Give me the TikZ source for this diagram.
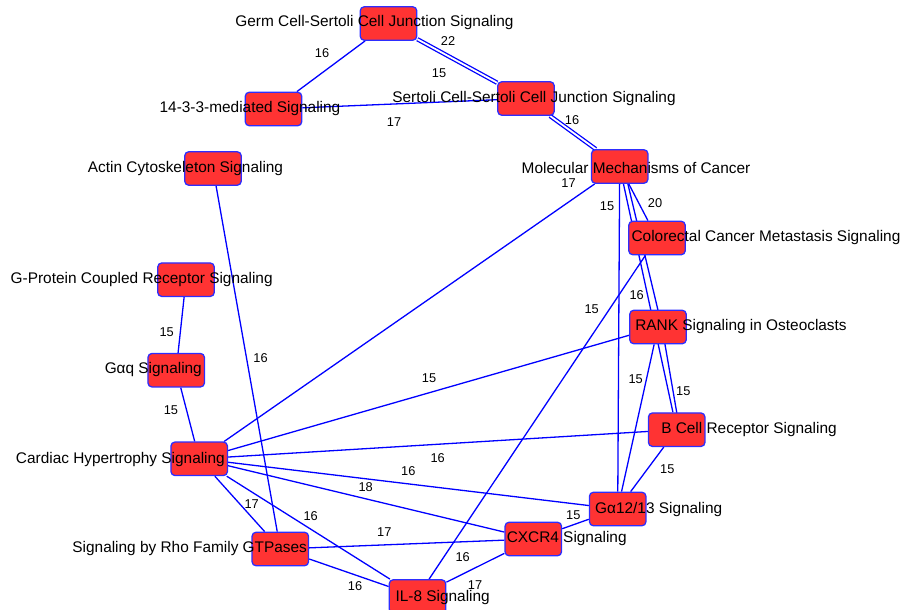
\documentclass[tikz,border=0pt]{standalone}
\usepackage{fontspec}
\setmainfont{Liberation Sans}
\usetikzlibrary{backgrounds}

\definecolor{nodered}{RGB}{255,51,51}
\definecolor{rimblue}{RGB}{45,45,255}
\definecolor{edgeblue}{RGB}{0,0,255}

\tikzset{
	pbox/.style={rectangle, rounded corners=4pt, draw=rimblue, fill=nodered, line width=1.3pt, minimum width=56.5pt, minimum height=33.5pt, inner sep=0pt},
	plabel/.style={inner sep=0pt, font=\fontsize{15.4}{18}\selectfont},
	wlabel/.style={inner sep=0pt, font=\fontsize{12.8}{15}\selectfont},
	link/.style={draw=edgeblue, line width=1.3pt},
	twolink/.style={link, double=white, double distance=1.8pt},
}

\begin{document}
\begin{tikzpicture}[x=1pt,y=-1pt]
	
	\useasboundingbox (0,0) rectangle (903,610);
	
	% pathway boxes
	\node[pbox] (gc) at (388.5,23.5) {};
	\node[pbox] (s14) at (273.5,109) {};
	\node[pbox] (sc) at (526,98.5) {};
	\node[pbox] (actin) at (213,168.5) {};
	\node[pbox] (mmc) at (619.7,166.5) {};
	\node[pbox] (crc) at (657,238) {};
	\node[pbox] (rank) at (658,327) {};
	\node[pbox] (bcr) at (676.7,429.7) {};
	\node[pbox] (g1213) at (617.7,509) {};
	\node[pbox] (cxcr4) at (533.3,539) {};
	\node[pbox] (il8) at (417.5,596.5) {};
	\node[pbox] (rho) at (280.3,549) {};
	\node[pbox] (chs) at (199.2,458.8) {};
	\node[pbox] (gaq) at (176.2,370.2) {};
	\node[pbox] (gpcr) at (186,279.7) {};
	
	% pathway names
	\node[plabel] (gc-t) at (374.5,23) {Germ Cell-Sertoli Cell Junction Signaling};
	\node[plabel] (s14-t) at (250,109) {14-3-3-mediated Signaling};
	\node[plabel] (sc-t) at (534,99) {Sertoli Cell-Sertoli Cell Junction Signaling};
	\node[plabel] (actin-t) at (185.5,169) {Actin Cytoskeleton Signaling};
	\node[plabel] (mmc-t) at (636,167.5) {Molecular Mechanisms of Cancer};
	\node[plabel] (crc-t) at (766,238) {Colorectal Cancer Metastasis Signaling};
	\node[plabel] (rank-t) at (741,327) {RANK Signaling in Osteoclasts};
	\node[plabel] (bcr-t) at (749,430) {B Cell Receptor Signaling};
	\node[plabel] (g1213-t) at (658.7,509.5) {Gα12/13 Signaling};
	\node[plabel] (cxcr4-t) at (566.7,539) {CXCR4 Signaling};
	\node[plabel] (il8-t) at (442.7,598) {IL-8 Signaling};
	\node[plabel] (rho-t) at (189.7,549) {Signaling by Rho Family GTPases};
	\node[plabel] (chs-t) at (120.4,459.3) {Cardiac Hypertrophy Signaling};
	\node[plabel] (gaq-t) at (153.3,369.5) {Gαq Signaling};
	\node[plabel] (gpcr-t) at (141.7,280) {G-Protein Coupled Receptor Signaling};
	
	% shared gene counts
	\node[wlabel] (w1) at (322,52.7) {16};
	\node[wlabel] (w2) at (448,41) {22};
	\node[wlabel] (w3) at (439,73) {15};
	\node[wlabel] (w4) at (394,121.7) {17};
	\node[wlabel] (w5) at (572,120) {16};
	\node[wlabel] (w6) at (568.5,182.7) {17};
	\node[wlabel] (w7) at (607,206) {15};
	\node[wlabel] (w8) at (655,203) {20};
	\node[wlabel] (w9) at (591.7,309) {15};
	\node[wlabel] (w10) at (636.7,295) {16};
	\node[wlabel] (w11) at (429,378) {15};
	\node[wlabel] (w12) at (635.7,379) {15};
	\node[wlabel] (w13) at (683.3,390.7) {15};
	\node[wlabel] (w14) at (260.5,358.5) {16};
	\node[wlabel] (w15) at (166.7,331.7) {15};
	\node[wlabel] (w16) at (171,410) {15};
	\node[wlabel] (w17) at (437.7,458.3) {16};
	\node[wlabel] (w18) at (408.3,470.7) {16};
	\node[wlabel] (w19) at (365.7,486.7) {18};
	\node[wlabel] (w20) at (251.7,504.3) {17};
	\node[wlabel] (w21) at (310.7,516) {16};
	\node[wlabel] (w22) at (384.3,532.3) {17};
	\node[wlabel] (w23) at (355,585.7) {16};
	\node[wlabel] (w24) at (462.7,557.3) {16};
	\node[wlabel] (w25) at (475,585) {17};
	\node[wlabel] (w26) at (573.3,515) {15};
	\node[wlabel] (w27) at (667.3,469.3) {15};
	
	\begin{pgfonlayer}{background}
	\draw[link] (gc) -- (s14);
	\draw[twolink] (gc) -- (sc);
	\draw[link] (s14) -- (sc);
	\draw[twolink] (sc) -- (mmc);
	\draw[link] (mmc) -- (chs);
	\draw[link] (mmc) -- (g1213);
	\draw[link] (mmc) -- (crc);
	\draw[link] ([xshift=4pt]mmc.center) -- ([xshift=4pt]rank.center);
	\draw[link] (mmc) -- (bcr);
	\draw[link] (crc) -- (il8);
	\draw[link] (rank) -- (chs);
	\draw[link] (rank) -- (g1213);
	\draw[link] ([xshift=4pt]rank.center) -- ([xshift=3pt]bcr.center);
	\draw[link] (bcr) -- (chs);
	\draw[link] (bcr) -- (g1213);
	\draw[link] (g1213) -- (chs);
	\draw[link] (g1213) -- (cxcr4);
	\draw[link] (cxcr4) -- (chs);
	\draw[link] (cxcr4) -- (rho);
	\draw[link] (cxcr4) -- (il8);
	\draw[link] (il8) -- (chs);
	\draw[link] (il8) -- (rho);
	\draw[link] (rho) -- (chs);
	\draw[link] (actin) -- (rho);
	\draw[link] (gpcr) -- (gaq);
	\draw[link] (gaq) -- (chs);
	\end{pgfonlayer}
	
\end{tikzpicture}
\end{document}
